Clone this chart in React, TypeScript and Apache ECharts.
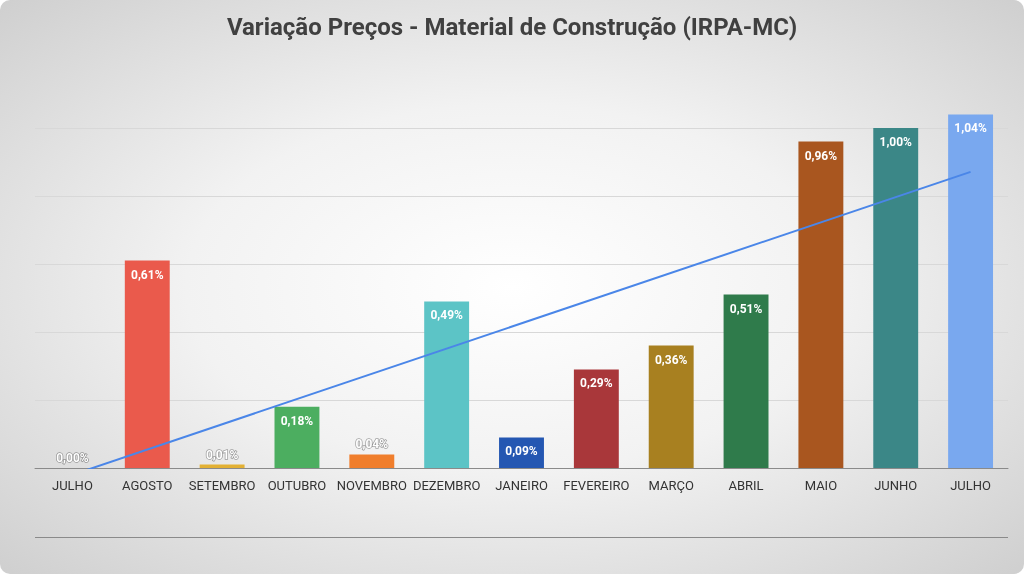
import { useRef, useEffect } from 'react'
import * as echarts from 'echarts'

const MONTHS = ['JULHO', 'AGOSTO', 'SETEMBRO', 'OUTUBRO', 'NOVEMBRO', 'DEZEMBRO', 'JANEIRO', 'FEVEREIRO', 'MARÇO', 'ABRIL', 'MAIO', 'JUNHO', 'JULHO']
const VALUES = [0.0, 0.61, 0.01, 0.18, 0.04, 0.49, 0.09, 0.29, 0.36, 0.51, 0.96, 1.0, 1.04]
const COLORS = ['transparent', '#ea5a4c', '#e3b134', '#4cae60', '#f07e2c', '#5cc4c6', '#2457b2', '#a9373a', '#a88020', '#2f7b4b', '#a9561f', '#3b8787', '#79a8ef']
// linear trendline endpoints
const TREND_START = -0.02
const TREND_END = 0.871

export default function App() {
  const ref = useRef<HTMLDivElement>(null)

  useEffect(() => {
    if (!ref.current) return
    const chart = echarts.init(ref.current, null, { renderer: 'svg' })
    const trend = MONTHS.map((_, i) => (i === 0 ? TREND_START : i === MONTHS.length - 1 ? TREND_END : null))
    chart.setOption({
      animation: false,
      backgroundColor: 'transparent',
      title: {
        text: 'Variação Preços - Material de Construção (IRPA-MC)',
        left: 'center',
        top: 10,
        textStyle: { fontFamily: 'Roboto, Arial', fontSize: 24, fontWeight: 'bold', color: '#404040' },
      },
      grid: { left: 35, right: 16, top: 60, bottom: 106, containLabel: false },
      graphic: [
        { type: 'line', shape: { x1: 35, y1: 537.5, x2: 1008, y2: 537.5 }, style: { stroke: '#8a8a8a', lineWidth: 1 } },
      ],
      xAxis: {
        type: 'category',
        data: MONTHS,
        axisLine: { lineStyle: { color: '#8a8a8a', width: 1 } },
        axisTick: { show: false },
        axisLabel: { color: '#333', fontSize: 13, fontFamily: 'Roboto, Arial', interval: 0, margin: 11 },
      },
      yAxis: {
        type: 'value',
        min: 0,
        max: 1.2,
        interval: 0.2,
        axisLabel: { show: false },
        axisLine: { show: false },
        axisTick: { show: false },
        splitLine: {
          lineStyle: {
            color: ['#8a8a8a', '#d8d8d8', '#d8d8d8', '#d8d8d8', '#d8d8d8', '#d8d8d8', 'transparent'],
            width: 1,
          },
        },
      },
      series: [
        {
          type: 'bar',
          barWidth: '60%',
          data: VALUES.map((v, i) => ({
            value: v,
            itemStyle: { color: COLORS[i] },
            label: {
              show: true,
              position: v < 0.08 ? 'top' : 'insideTop',
              distance: v < 0.08 ? 4 : 8,
              color: '#fff',
              fontWeight: 'bold',
              fontSize: 12,
              fontFamily: 'Roboto, Arial',
              textBorderColor: v < 0.08 ? 'rgba(0,0,0,0.35)' : 'transparent',
              textBorderWidth: v < 0.08 ? 1.5 : 0,
              formatter: () => v.toFixed(2).replace('.', ',') + '%',
            },
          })),
        },
        {
          type: 'line',
          data: trend,
          connectNulls: true,
          symbol: 'none',
          lineStyle: { color: '#4a86e8', width: 2 },
          z: 5,
        },
      ],
    })
    return () => chart.dispose()
  }, [])

  return (
    <div
      style={{
        position: 'fixed',
        left: 0,
        top: 0,
        width: 1024,
        height: 574,
        borderRadius: 10,
        background: 'radial-gradient(ellipse at center, #ffffff 0%, #f2f2f2 45%, #cfcfcf 100%)',
      }}
    >
      <div ref={ref} style={{ width: 1024, height: 574 }} />
    </div>
  )
}
